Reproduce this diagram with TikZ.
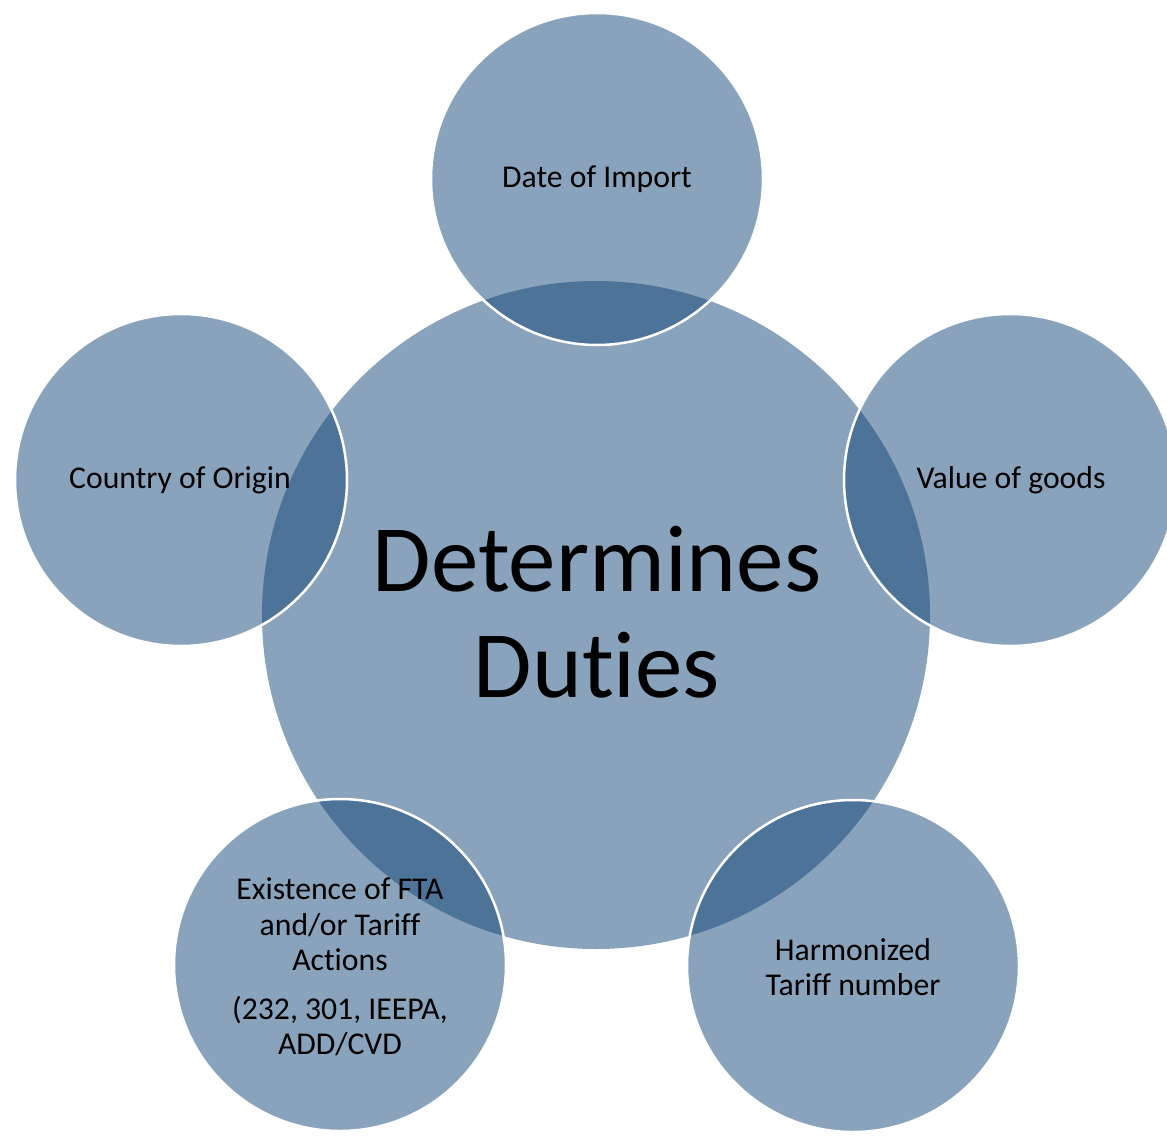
\documentclass[tikz,border=0pt]{standalone}
\usepackage{fontspec}
\setmainfont[Ligatures=NoCommon]{Carlito}
\usetikzlibrary{calc}
\usepackage{xcolor}
\definecolor{discblue}{HTML}{8AA3BC}
\definecolor{overlapblue}{HTML}{4E7399}

\begin{document}
\begin{tikzpicture}[x=1pt, y=-1pt,
  factor/.style={align=center, font=\fontsize{31.7}{35.5}\selectfont, inner sep=0},
  hubtext/.style={align=center, font=\fontsize{95}{106}\selectfont, inner sep=0}]
\useasboundingbox (0,0) rectangle (1167,1135);
\coordinate (hubc) at (596,615);
\fill[discblue] (hubc) circle (334);
\foreach \cx/\cy in {597/179, 181/480, 1010/480, 340/965, 853/966} {
 \fill[discblue] (\cx,\cy) circle (166);
 \begin{scope}
  \clip (hubc) circle (334);
  \fill[overlapblue] (\cx,\cy) circle (166);
 \end{scope}
 \draw[white, line width=2.5] (\cx,\cy) circle (166);
}
\node[hubtext] (duties) at (597,612) {Determines\\Duties};
\node[factor] (date) at (597,179) {Date of Import};
\node[factor] (origin) at (180,480) {Country of Origin};
\node[factor] (value) at (1011,480) {Value of goods};
\node[factor] (fta) at (340,967) {Existence of FTA\\and/or Tariff\\Actions\\[13pt](232, 301, IEEPA,\\ADD/CVD};
\node[factor] (hts) at (853,967) {Harmonized\\Tariff number};
\end{tikzpicture}
\end{document}
